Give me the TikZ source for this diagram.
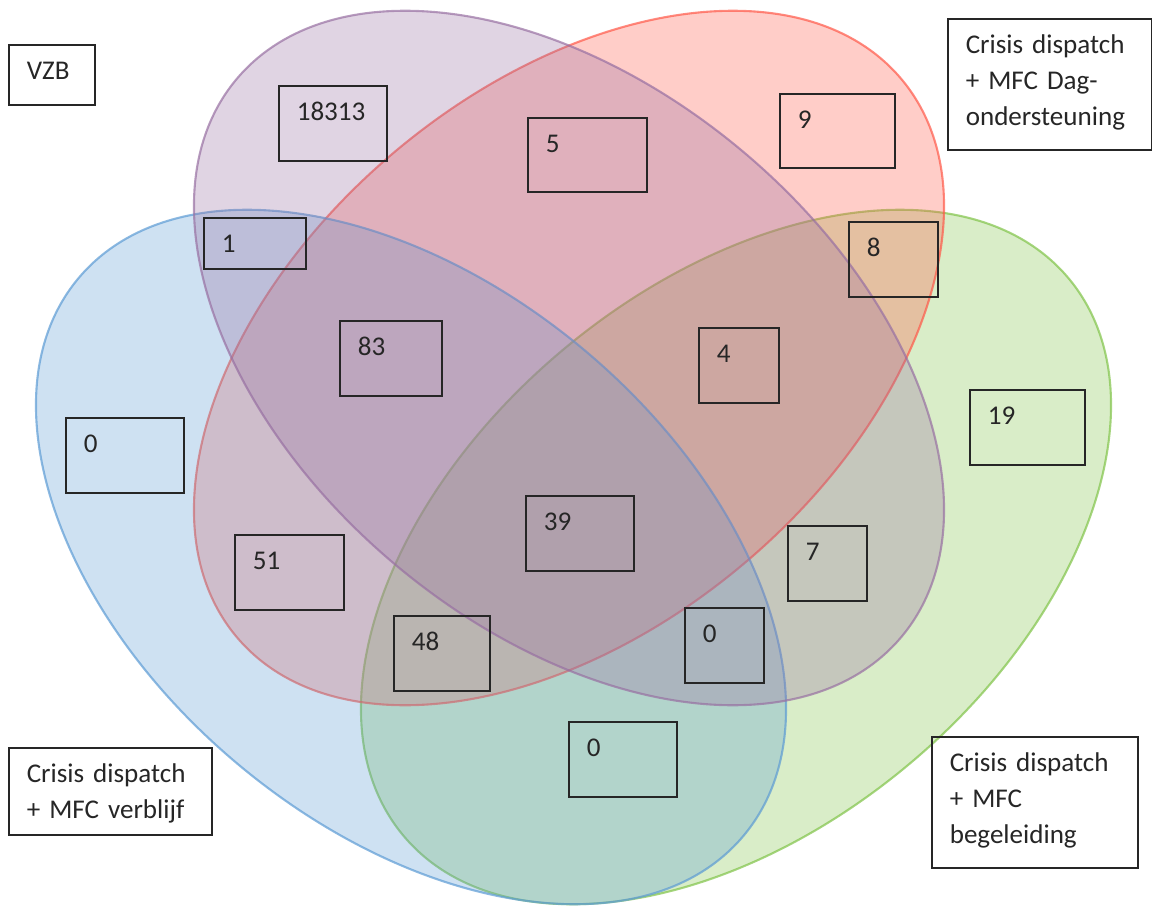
\documentclass[tikz,border=0pt]{standalone}
\usepackage{fontspec}
\setmainfont{Carlito}
\usepackage{tikz}
\definecolor{vzbpurple}{RGB}{152,112,162}
\definecolor{dagred}{RGB}{255,88,72}
\definecolor{verblue}{RGB}{92,155,212}
\definecolor{begreen}{RGB}{128,195,72}
\definecolor{ink}{RGB}{38,38,38}

\begin{document}
\begin{tikzpicture}[
  x=0.02cm, y=-0.02cm,
  every node/.style={font=\fontsize{15.4}{20.5}\selectfont, text=ink},
  set/.style={line width=1.2pt, fill opacity=0.3, draw opacity=0.7},
  cell/.style={draw=ink, line width=0.9pt, anchor=north west,
               inner xsep=0.36cm, inner ysep=0pt, align=left,
               text height=0.7cm}]
\useasboundingbox (0,0) rectangle (1152,906);

% ---- the four sets, as rotated ellipses (bottom one first) -------------
\coordinate (cVZB) at (569,358);
\coordinate (cDag) at (569,358);
\coordinate (cVer) at (411,557);
\coordinate (cBeg) at (736,557);
\draw[set, draw=begreen, fill=begreen, rotate around={40:(cBeg)}]
  (cBeg) ellipse [x radius=8.68cm, y radius=5.4cm];
\draw[set, draw=dagred, fill=dagred, rotate around={40:(cDag)}]
  (cDag) ellipse [x radius=8.68cm, y radius=5.4cm];
\draw[set, draw=verblue, fill=verblue, rotate around={-40:(cVer)}]
  (cVer) ellipse [x radius=8.68cm, y radius=5.4cm];
\draw[set, draw=vzbpurple, fill=vzbpurple, rotate around={-40:(cVZB)}]
  (cVZB) ellipse [x radius=8.68cm, y radius=5.4cm];

% ---- the set names -----------------------------------------------------
\node[cell, text width=1.0cm, text depth=0.5cm] (lVZB) at (8,44) {VZB};
\node[cell, text width=3.36cm, text depth=1.92cm] (lDag) at (947,18)
  {Crisis dispatch\\+ MFC Dag-\\ondersteuning};
\node[cell, text width=3.34cm, text depth=1.04cm] (lVer) at (8,747)
  {Crisis dispatch\\+ MFC verblijf};
\node[cell, text width=3.4cm, text depth=1.92cm] (lBeg) at (931,736)
  {Crisis dispatch\\+ MFC\\begeleiding};

% ---- the counts in each region -----------------------------------------
\node[cell, text width=1.44cm, text depth=0.8cm]  (n18313) at (278,85)  {18313};
\node[cell, text width=1.32cm, text depth=0.32cm] (n1)     at (203,217) {1};
\node[cell, text width=1.66cm, text depth=0.78cm] (n5)     at (527,117) {5};
\node[cell, text width=1.58cm, text depth=0.78cm] (n9)     at (779,93)  {9};
\node[cell, text width=1.06cm, text depth=0.8cm]  (n8)     at (848,221) {8};
\node[cell, text width=1.32cm, text depth=0.8cm]  (n83)    at (339,320) {83};
\node[cell, text width=0.88cm, text depth=0.8cm]  (n4)     at (698,327) {4};
\node[cell, text width=1.58cm, text depth=0.8cm]  (n19)    at (969,389) {19};
\node[cell, text width=1.64cm, text depth=0.8cm]  (n0a)    at (65,417)  {0};
\node[cell, text width=1.44cm, text depth=0.8cm]  (n39)    at (525,495) {39};
\node[cell, text width=0.86cm, text depth=0.8cm]  (n7)     at (787,525) {7};
\node[cell, text width=1.46cm, text depth=0.8cm]  (n51)    at (234,534) {51};
\node[cell, text width=1.2cm,  text depth=0.8cm]  (n48)    at (393,615) {48};
\node[cell, text width=0.86cm, text depth=0.8cm]  (n0b)    at (684,607) {0};
\node[cell, text width=1.44cm, text depth=0.8cm]  (n0c)    at (568,721) {0};
\end{tikzpicture}
\end{document}
